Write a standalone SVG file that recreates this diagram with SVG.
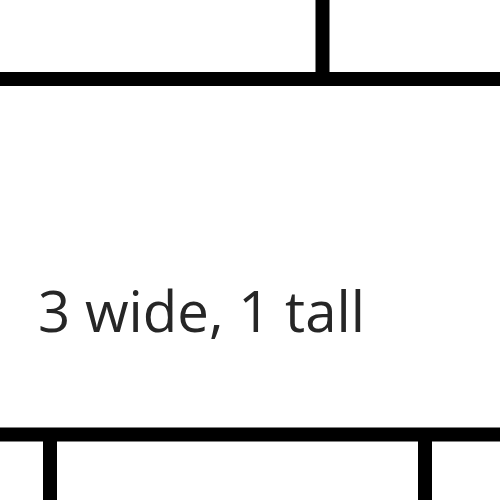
<svg xmlns="http://www.w3.org/2000/svg" width="500" height="500" viewBox="0 0 500 500">
<style>
.w{stroke:#000;stroke-width:14;fill:none}
.t{font-family:"Open Sans","Liberation Sans",sans-serif;font-size:56px;fill:#262626}
</style>
<rect width="500" height="500" fill="#fff"/>
<path class="w" d="M0 79H500M322.5 0V79M0 434.5H500M50 434.5V500M425 434.5V500"/>
<text class="t" x="38" y="332" textLength="327" lengthAdjust="spacingAndGlyphs">3 wide, 1 tall</text>
</svg>
